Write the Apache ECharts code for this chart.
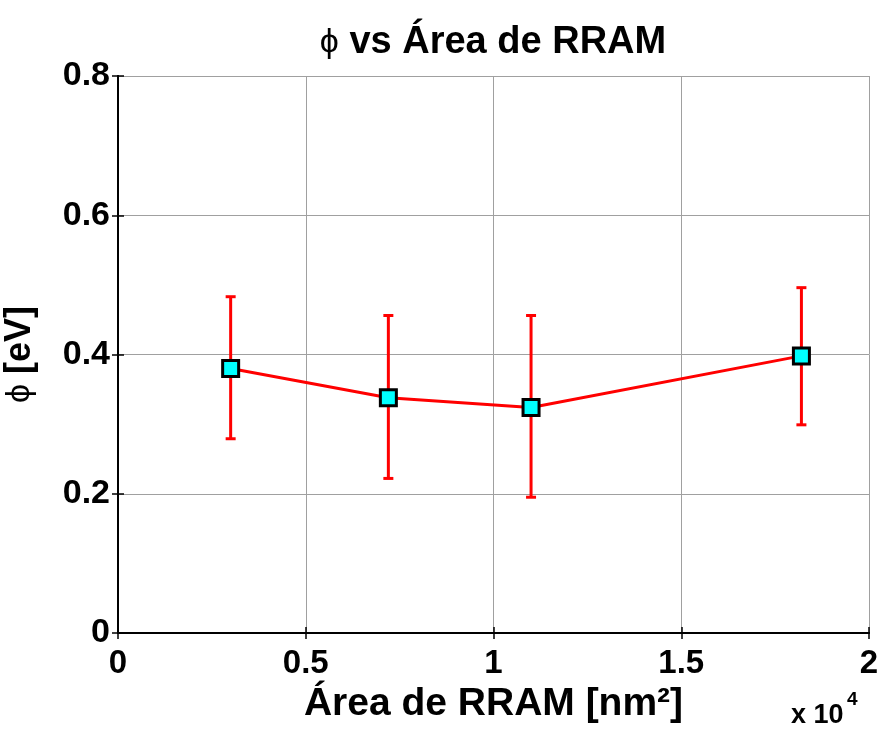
<!DOCTYPE html>
<html><head><meta charset="utf-8">
<script src="https://cdn.jsdelivr.net/npm/echarts@6/dist/echarts.min.js"></script>
<style>html,body{margin:0;padding:0;background:#fff}#c{width:882px;height:736px}</style>
</head><body><div id="c"></div>
<script>
const areas = [3000, 7200, 11000, 18200];
const phiMean = [0.380, 0.338, 0.324, 0.398];
const phiUpper = [0.483, 0.456, 0.456, 0.496];
const phiLower = [0.279, 0.222, 0.195, 0.299];
const xTicks = [0, 0.5, 1, 1.5, 2];
const yTicks = [0, 0.2, 0.4, 0.6, 0.8];

const chart = echarts.init(document.getElementById('c'));
const sans = "'Liberation Sans',Arial,sans-serif";
const axisCommon = {
  axisLine: {show: true, lineStyle: {color: '#000', width: 2}},
  axisTick: {show: true, inside: true, length: 6, lineStyle: {color: '#000', width: 1.5}},
};
const option = {
  animation: false,
  grid: {left: 118, right: 13, top: 76, bottom: 103, containLabel: false, outerBoundsMode: 'none'},
  title: {
    text: '{p|ϕ} vs Área de RRAM', left: 488, top: 19, textAlign: 'center',
    textStyle: {fontFamily: sans, fontWeight: 'bold', fontSize: 38, color: '#000',
      rich: {p: {fontFamily: sans, fontWeight: 'normal', fontSize: 34, color: '#000'}}}
  },
  xAxis: [{
    type: 'value', min: 0, max: 20000, interval: 5000, position: 'bottom',
    ...axisCommon,
    splitLine: {show: true, lineStyle: {color: '#a0a0a0', width: 1}},
    axisLabel: {show: true, margin: 14, color: '#000', fontFamily: sans, fontWeight: 'bold', fontSize: 33,
      formatter: v => String(xTicks[Math.round(v / 5000)])},
    name: 'Área de RRAM [nm²]', nameLocation: 'middle', nameGap: 38,
    nameTextStyle: {color: '#000', fontFamily: sans, fontWeight: 'bold', fontSize: 39}
  }, {
    type: 'value', min: 0, max: 20000, interval: 5000, position: 'top',
    ...axisCommon, splitLine: {show: false}, axisLabel: {show: false}
  }],
  yAxis: [{
    type: 'value', min: 0, max: 0.8, interval: 0.2, position: 'left',
    ...axisCommon,
    splitLine: {show: true, lineStyle: {color: '#a0a0a0', width: 1}},
    axisLabel: {show: true, margin: 8, color: '#000', fontFamily: sans, fontWeight: 'bold', fontSize: 34,
      formatter: v => { const t = yTicks.find(k => Math.abs(k - v) < 1e-9); return t === 0 ? '0' : String(t); }},
    name: '{p|ϕ} [eV]', nameLocation: 'middle', nameGap: 80, nameRotate: 90,
    nameTextStyle: {color: '#000', fontFamily: sans, fontWeight: 'bold', fontSize: 36,
      rich: {p: {fontFamily: sans, fontWeight: 'normal', fontSize: 34, color: '#000'}}}
  }, {
    type: 'value', min: 0, max: 0.8, interval: 0.2, position: 'right',
    ...axisCommon, splitLine: {show: false}, axisLabel: {show: false}
  }],
  graphic: [{
    type: 'text', left: 791, top: 702,
    style: {text: 'x 10', fill: '#000', font: "bold 27px " + sans}
  }, {
    type: 'text', left: 847, top: 690,
    style: {text: '4', fill: '#000', font: "bold 19px " + sans}
  }],
  series: [{
    type: 'custom', xAxisIndex: 0, yAxisIndex: 0, z: 2,
    data: areas.map((a, i) => [a, phiLower[i], phiUpper[i]]),
    renderItem: (params, api) => {
      const lo = api.coord([api.value(0), api.value(1)]);
      const hi = api.coord([api.value(0), api.value(2)]);
      const w = 5;
      const st = {stroke: '#ff0000', lineWidth: 3};
      return {type: 'group', children: [
        {type: 'line', shape: {x1: lo[0], y1: lo[1], x2: hi[0], y2: hi[1]}, style: st},
        {type: 'line', shape: {x1: lo[0] - w, y1: lo[1], x2: lo[0] + w, y2: lo[1]}, style: st},
        {type: 'line', shape: {x1: hi[0] - w, y1: hi[1], x2: hi[0] + w, y2: hi[1]}, style: st}
      ]};
    }
  }, {
    type: 'line', xAxisIndex: 0, yAxisIndex: 0, z: 3,
    data: areas.map((a, i) => [a, phiMean[i]]),
    lineStyle: {color: '#ff0000', width: 3},
    symbol: 'rect', symbolSize: 16,
    itemStyle: {color: '#00ffff', borderColor: '#000', borderWidth: 3}
  }]
};
chart.setOption(option);
</script></body></html>
